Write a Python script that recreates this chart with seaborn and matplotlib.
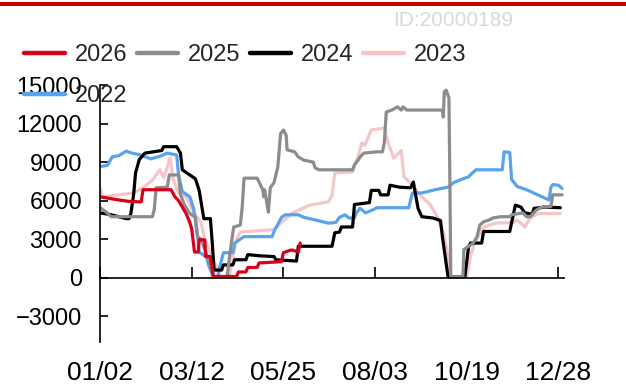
import matplotlib
matplotlib.use("Agg")
import matplotlib.pyplot as plt
from matplotlib.patches import Rectangle
import pandas as pd
import seaborn as sns

# Trading-day index on x, spread value on y; vertices of each year's curve
s2026 = [(0, 6300), (8, 6100), (15, 5950), (22, 5900), (23, 6850), (38, 6850), (40, 6300),
         (42, 6000), (44, 5500), (46, 5000), (48, 4300), (49, 3800), (50.5, 2000), (52.5, 2000),
         (53, 2950), (56, 2950), (56.5, 1650), (59, 1650), (60.5, 100), (73, 100), (74, 450),
         (78, 450), (79, 800), (84, 800), (85, 1150), (97, 1250), (98, 1950), (102, 2150),
         (103, 2150), (106, 2000), (107, 2700)]

s2025 = [(0, 5450), (3, 5150), (6, 4750), (28, 4750), (29, 5300), (30, 7000), (36, 7050),
         (37, 8000), (42, 8000), (43, 6500), (45, 5700), (48, 5000), (51, 4700), (52, 3200),
         (54, 3000), (56, 2200), (59, 1000), (61, 80), (68, 80), (69, 1400), (71, 3500),
         (71.5, 3950), (75, 4100), (76, 5500), (77, 7750), (84, 7750), (87, 6850), (87.5, 6300),
         (88, 6850), (90, 5100), (91, 7000), (93, 7400), (95, 8600), (95.5, 9400), (96.5, 11200),
         (98, 11500), (99.5, 11100), (100, 9950), (104, 9800), (106, 9400), (109, 9150),
         (114, 9000), (115, 8550), (117, 8400), (135, 8400), (136, 8800), (138, 9150),
         (139, 9400), (141, 9700), (148, 9800), (151, 9800), (152, 10550), (153, 12900),
         (156, 13050), (159, 13300), (161, 13050), (162, 13300), (164, 13050), (183, 13050),
         (183.5, 12500), (184, 14450), (185, 14600), (186.5, 14000), (187, 7600), (187.5, 80),
         (194, 80), (194.5, 2200), (196.5, 2400), (199.5, 2700), (201.5, 3200), (203, 4100),
         (205, 4350), (208, 4500), (210, 4650), (214, 4750), (219, 4750), (220, 4900),
         (226, 5050), (228, 4750), (230, 4750), (233, 5250), (236, 5500), (241, 5550),
         (242, 6450), (247, 6450)]

s2024 = [(0, 5050), (6, 4900), (14, 4600), (15.5, 4600), (16.5, 5000), (18, 6500), (19, 8150),
         (21, 9200), (24, 9700), (33, 9900), (34, 10200), (41, 10200), (43, 9700), (44, 8400),
         (47, 8100), (51, 7700), (53, 6800), (55.5, 4600), (59, 4600), (60, 2700), (61, 600),
         (65, 600), (66, 1000), (71, 1000), (72, 1400), (78, 1400), (79, 1800), (86, 1700),
         (93, 1650), (94, 1400), (105, 1300), (106, 2450), (124, 2450), (125.5, 3500),
         (128, 3550), (129, 3950), (135, 3950), (136, 5700), (144, 5850), (145, 6800),
         (149, 6800), (150, 6450), (154, 6450), (155, 7200), (160, 7050), (166, 7000),
         (167.5, 7450), (168.5, 6600), (170, 5400), (172, 4750), (178, 4650), (182, 4450),
         (183, 3200), (186, 80), (195, 80), (197, 2400), (198, 2700), (204, 2700), (205, 3600),
         (219, 3600), (220, 4300), (222, 5650), (225, 5500), (227, 5050), (231, 4950),
         (232, 5400), (238, 5500), (246, 5450)]

s2023 = [(0, 7000), (1.5, 6300), (10, 6450), (18, 6600), (23, 7000), (28, 7600), (32, 8400),
         (34, 7800), (36, 8600), (37.5, 9350), (39, 7700), (42, 6600), (46, 6300), (50, 5100),
         (54, 4300), (56, 3000), (59, 2000), (62, 900), (64, 80), (69, 80), (71, 1600),
         (73, 3000), (75, 3550), (93, 3750), (97, 4300), (103, 5050), (112, 5650), (122, 5900),
         (124, 6400), (125.5, 8150), (135, 8250), (138, 9500), (140, 10500), (141.5, 10300),
         (145, 11500), (152, 11650), (154, 10500), (157, 9300), (161, 9900), (162.5, 7850),
         (167, 7200), (172, 6300), (176.5, 5700), (180, 4800), (183.5, 3500), (186, 1700),
         (187, 80), (196, 80), (198, 1700), (200, 2600), (204, 3750), (206, 4000), (212, 4250),
         (221, 4300), (222.5, 4500), (225, 4250), (227, 3950), (230, 4650), (234, 5000),
         (246, 5000)]

s2022 = [(0, 8650), (4, 8750), (6.5, 9400), (10, 9500), (14, 9850), (17, 9700), (22, 9550),
         (27, 9250), (32, 9450), (36, 9700), (41, 9550), (42, 8000), (44, 6700), (48, 6300),
         (50, 5400), (52, 3500), (53, 2000), (57, 1600), (58, 1000), (60.5, 80), (63, 80),
         (64, 850), (66, 1950), (71, 1950), (72, 2700), (75, 3000), (77, 3200), (92, 3200),
         (93, 3600), (97, 4700), (99, 4900), (106, 4900), (109, 4700), (115, 4500), (122, 4250),
         (126, 4300), (128, 4700), (131, 4900), (133, 4650), (136, 4650), (137, 5050),
         (139, 5400), (142, 5050), (146, 5300), (148, 5450), (165, 5450), (167, 6600),
         (172, 6600), (175, 6700), (179, 6850), (186, 7050), (189, 7400), (193, 7650),
         (197, 7850), (199, 8150), (201, 8400), (215, 8400), (216, 9800), (219, 9750),
         (220, 7650), (223, 7100), (228, 6850), (234, 6450), (240, 6050), (241, 7050),
         (242, 7250), (245, 7200), (247, 6950)]

years = ["2026", "2025", "2024", "2023", "2022"]
series = [s2026, s2025, s2024, s2023, s2022]
colors = {"2026": "#d8001a", "2025": "#8c8c8c", "2024": "#000000",
          "2023": "#f5c6c8", "2022": "#58a3ec"}

tick_pos = [0, 49, 98, 147, 196, 245]
tick_labels = ["01/02", "03/12", "05/25", "08/03", "10/19", "12/28"]
y_ticks = [-3000, 0, 3000, 6000, 9000, 12000, 15000]

rows = []
for yr, pts in zip(years, series):
    for i, (x, v) in enumerate(pts):
        rows.append({"year": yr, "day": x, "value": v, "order": i})
df = pd.DataFrame(rows)

sns.set_style("white")
plt.rcParams["font.family"] = ["Liberation Sans", "DejaVu Sans"]

fig = plt.figure(figsize=(6.26, 3.89), dpi=100)
ax = fig.add_axes([100 / 626, 1 - 342 / 389, 464 / 626, 257 / 389])

draw_order = ["2023", "2022", "2024", "2025", "2026"]
sns.lineplot(data=df, x="day", y="value", hue="year", hue_order=draw_order,
             palette=colors, estimator=None, sort=False, linewidth=2.3,
             legend=True, ax=ax)

ax.set_xlim(0, 248)
ax.set_ylim(-5000, 15000)
ax.set_xlabel("")
ax.set_ylabel("")

for side in ("top", "right"):
    ax.spines[side].set_visible(False)
ax.spines["left"].set_color("black")
ax.spines["left"].set_linewidth(1.2)
ax.spines["bottom"].set_position(("data", 0))
ax.spines["bottom"].set_color("black")
ax.spines["bottom"].set_linewidth(1.2)

ax.set_xticks(tick_pos)
ax.set_xticklabels(tick_labels)
ax.set_xticks([248], minor=True)
ax.set_yticks(y_ticks)
ax.set_yticklabels([str(t).replace("-", "\u2212") for t in y_ticks])
ax.tick_params(axis="x", which="both", direction="in", length=8, width=1.2,
               color="black", pad=60, labelsize=19, labelcolor="black")
ax.tick_params(axis="y", direction="in", length=6, width=1.2, color="black",
               pad=13, labelsize=17, labelcolor="black")
ax.tick_params(left=True, bottom=True)

# Legend: two rows, 2022 wraps under 2026
handles, labels = ax.get_legend_handles_labels()
lookup = dict(zip(labels, handles))
ax.get_legend().remove()
legend_order = ["2026", "2022", "2025", "2024", "2023"]
leg = fig.legend([lookup[k] for k in legend_order], legend_order, ncol=4,
                 loc="upper left", bbox_to_anchor=(24 / 626, 1 - 44 / 389),
                 frameon=False, borderpad=0, borderaxespad=0,
                 handlelength=1.74, handletextpad=0.42, columnspacing=0.4,
                 labelspacing=0.8, prop={"size": 17})
for line in leg.get_lines():
    line.set_linewidth(3.2)

# Header rule and source id
fig.add_artist(Rectangle((0, 1 - 6 / 389), 1, 3.5 / 389, transform=fig.transFigure,
                         facecolor="#cc0000", edgecolor="none"))
fig.text(513 / 626, 1 - 20 / 389, "ID:20000189", ha="right", va="center",
         color="#d9d9d9", fontsize=15)

fig.savefig("out.png", dpi=100)
